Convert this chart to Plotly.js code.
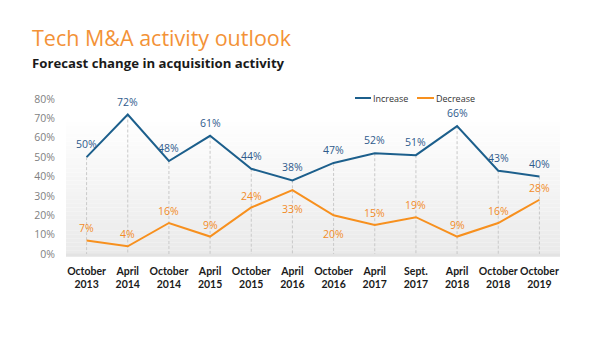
<!DOCTYPE html>
<html>
<head>
<meta charset="utf-8">
<script src="https://cdn.plot.ly/plotly-3.0.1.min.js"></script>
<style>html,body{margin:0;padding:0;background:#fff;}#chart{width:600px;height:340px;}</style>
</head>
<body>
<div id="chart"></div>
<script>
const categories = ["October<br>2013","April<br>2014","October<br>2014","April<br>2015","October<br>2015","April<br>2016","October<br>2016","April<br>2017","Sept.<br>2017","April<br>2018","October<br>2018","October<br>2019"];
const increase = [50,72,48,61,44,38,47,52,51,66,43,40];
const decrease = [7,4,16,9,24,33,20,15,19,9,16,28];
const decreaseLabelBelow = [false,false,false,false,false,true,true,false,false,false,false,false];
const yTicks = [0,10,20,30,40,50,60,70,80];

const FONT = "Open Sans, Noto Sans, sans-serif";
const idx = categories.map((c,i)=>i);

// drop lines from increase points to baseline
const dropX = [], dropY = [];
idx.forEach(i=>{ dropX.push(i,i,null); dropY.push(increase[i],0,null); });

const traces = [
  {x: dropX, y: dropY, mode:'lines', line:{color:'#c9c9c9', width:1, dash:'3px,2px'}, hoverinfo:'skip', showlegend:false},
  {x: idx, y: increase, name:'Increase', mode:'lines', line:{color:'#1c5f8c', width:2}, showlegend:false},
  {x: idx, y: decrease, name:'Decrease', mode:'lines', line:{color:'#f7901e', width:2}, showlegend:false}
];

// gradient background stripes
const shapes = [];
const N = 40;
for (let k=0;k<N;k++){
  const t = k/N; // 0 bottom .. 1 top
  const g = Math.round(234 + (255-234)*Math.min(1, t*1.15));
  shapes.push({type:'rect', xref:'paper', yref:'y', x0:0, x1:1, y0:80*k/N, y1:80*(k+1)/N, fillcolor:`rgb(${g},${g},${g})`, line:{width:0}, layer:'below'});
}
shapes.push({type:'rect', xref:'paper', yref:'paper', x0:0, x1:1, y0:-0.018, y1:0.003, fillcolor:'#e3e3e3', line:{width:0}, layer:'below'});
// legend samples
shapes.push({type:'line', xref:'paper', yref:'paper', x0:(355-66)/494, x1:(371-66)/494, y0:(254-98)/155, y1:(254-98)/155, line:{color:'#1c5f8c', width:2}});
shapes.push({type:'line', xref:'paper', yref:'paper', x0:(417-66)/494, x1:(434-66)/494, y0:(254-98)/155, y1:(254-98)/155, line:{color:'#f7901e', width:2}});

const annotations = [
  {text:'Tech M&A activity outlook', xref:'paper', yref:'paper', x:(30-66)/494, y:(254-37)/155, xanchor:'left', yanchor:'middle', showarrow:false, font:{family:FONT, size:21.5, color:'#f39237'}},
  {text:'<b>Forecast change in acquisition activity</b>', xref:'paper', yref:'paper', x:(30-66)/494, y:(254-63)/155, xanchor:'left', yanchor:'middle', showarrow:false, font:{family:FONT, size:13.2, color:'#1a1a1a'}},
  {text:'Increase', xref:'paper', yref:'paper', x:(371-66)/494, y:(254-98)/155, xanchor:'left', yanchor:'middle', showarrow:false, font:{family:FONT, size:9, color:'#333'}},
  {text:'Decrease', xref:'paper', yref:'paper', x:(434-66)/494, y:(254-98)/155, xanchor:'left', yanchor:'middle', showarrow:false, font:{family:FONT, size:9, color:'#333'}}
];
idx.forEach(i=>{
  annotations.push({x:i, y:increase[i], xref:'x', yref:'y', text:increase[i]+'%', showarrow:false, yshift:13, font:{family:FONT, size:10.5, color:'#2f5a8c'}});
  annotations.push({x:i, y:decrease[i], xref:'x', yref:'y', text:decrease[i]+'%', showarrow:false, yshift: decreaseLabelBelow[i] ? -19 : 12, font:{family:FONT, size:10.5, color:'#f28c28'}});
});

const layout = {
  width:600, height:340,
  margin:{l:66, r:40, t:99, b:86},
  paper_bgcolor:'#ffffff', plot_bgcolor:'rgba(0,0,0,0)',
  showlegend:false,
  xaxis:{range:[-0.5,11.5], tickvals:idx, ticktext:categories.map(c=>'<b>'+c+'</b>'), tickangle:0, showgrid:false, zeroline:false, showline:false,
         tickfont:{family:"Lato, Open Sans, sans-serif", size:10.5, color:'#1a1a1a'}, ticks:'outside', ticklen:7, tickcolor:'rgba(0,0,0,0)', fixedrange:true},
  yaxis:{range:[0,80], tickvals:yTicks, ticktext:yTicks.map(v=>v+'%'), showgrid:false, zeroline:false, showline:false,
         tickfont:{family:FONT, size:10.5, color:'#7f7f7f'}, ticks:'outside', ticklen:8, tickcolor:'rgba(0,0,0,0)', fixedrange:true},
  shapes: shapes,
  annotations: annotations,
  font:{family:FONT}
};

Plotly.newPlot('chart', traces, layout, {displayModeBar:false, staticPlot:true});
</script>
</body>
</html>
